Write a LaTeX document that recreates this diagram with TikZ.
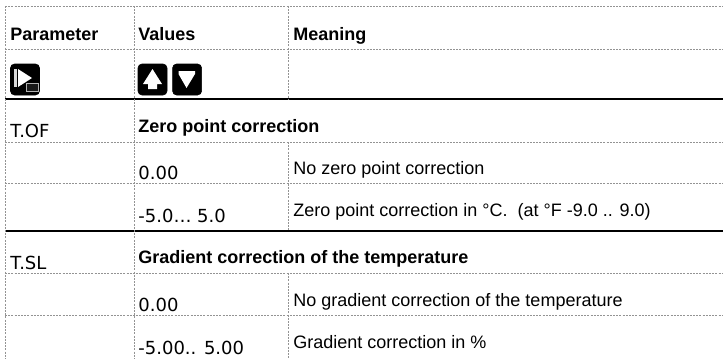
\documentclass[tikz,border=0pt]{standalone}
\usepackage{fontspec}
\setmainfont{Liberation Sans}
\newfontfamily\dejavu{DejaVu Sans}
\usetikzlibrary{positioning}
\tikzset{
	x=.5pt,
	y=-.5pt,
	font=\fontsize{9}{11}\selectfont,
	gridline/.style={
		gray!85,
		line width=.5pt,
		dash pattern=on 1pt off .6pt
	},
	rule/.style={
		black,
		line width=1.3pt
	},
	head/.style={
		anchor=base west,
		inner sep=0pt,
		font=\fontsize{9}{11}\selectfont\bfseries
	},
	cell/.style={
		anchor=base west,
		inner sep=0pt
	},
	code/.style={
		anchor=base west,
		inner sep=0pt,
		font=\fontsize{9}{11}\selectfont\dejavu
	},
	keycap/.style={
		draw=black,
		fill=black,
		line width=.3pt,
		rounded corners=2pt,
		minimum width=14.5pt,
		minimum height=15.5pt,
		inner sep=0pt
	}
}

\begin{document}
\begin{tikzpicture}
\useasboundingbox (0,0) rectangle (723,359);
% ---
% grid
% ---
\foreach \y in {6,49,142,183,273,315}
	\draw[gridline] (5,\y) -- (723,\y);
\foreach \y in {99,231}
	\draw[rule] (5,\y) -- (723,\y);
\draw[gridline] (5,6) -- (5,359);
\draw[gridline] (134,6) -- (134,359);
\draw[gridline] (288,6) -- (288,99);
\draw[gridline] (288,142) -- (288,231);
\draw[gridline] (288,273) -- (288,359);

% ---
% header
% ---
\node[head] at (10,40) (h-par) {Parameter};
\node[head] at (138,40) (h-val) {Values};
\node[head] at (293,40) (h-mean) {Meaning};

% ---
% keys
% ---
\node[keycap] at (25,79.5) (key-next) {};
\node[keycap] at (152.5,79.5) (key-up) {};
\node[keycap, right=2.5pt of key-up] (key-down) {};
\fill[gray!30] (14,69) rectangle (17,87);
\fill[white] (18,69) -- (32,78) -- (18,87) -- cycle;
\draw[gray!60, fill=gray!20!black, line width=.4pt] (26,83) rectangle (38,91);
\fill[white] (152.5,69) -- (162,84) -- (157,84) -- (157,89) -- (148,89) -- (148,84) -- (143,84) -- cycle;
\fill[white] (178.5,71) -- (195,71) -- (195,74) -- (186.5,88) -- (178.5,74) -- cycle;

% ---
% T.OF
% ---
\node[code] at (10,137) (tof) {T.OF};
\node[head] at (138,132) (tof-title) {Zero point correction};
\node[code] at (138,179) (tof-v0) {0.00};
\node[cell] at (293,174) (tof-m0) {No zero point correction};
\node[code] at (138,222) (tof-v1) {-5.0… 5.0};
\node[cell] at (293,216) (tof-m1) {Zero point correction in °C.\ \ (at °F -9.0 .. 9.0)};

% ---
% T.SL
% ---
\node[code] at (10,269) (tsl) {T.SL};
\node[head] at (138,263) (tsl-title) {Gradient correction of the temperature};
\node[code] at (138,311) (tsl-v0) {0.00};
\node[cell] at (293,306) (tsl-m0) {No gradient correction of the temperature};
\node[code] at (138,354) (tsl-v1) {-5.00.. 5.00};
\node[cell] at (293,348) (tsl-m1) {Gradient correction in \%};
\end{tikzpicture}
\end{document}
